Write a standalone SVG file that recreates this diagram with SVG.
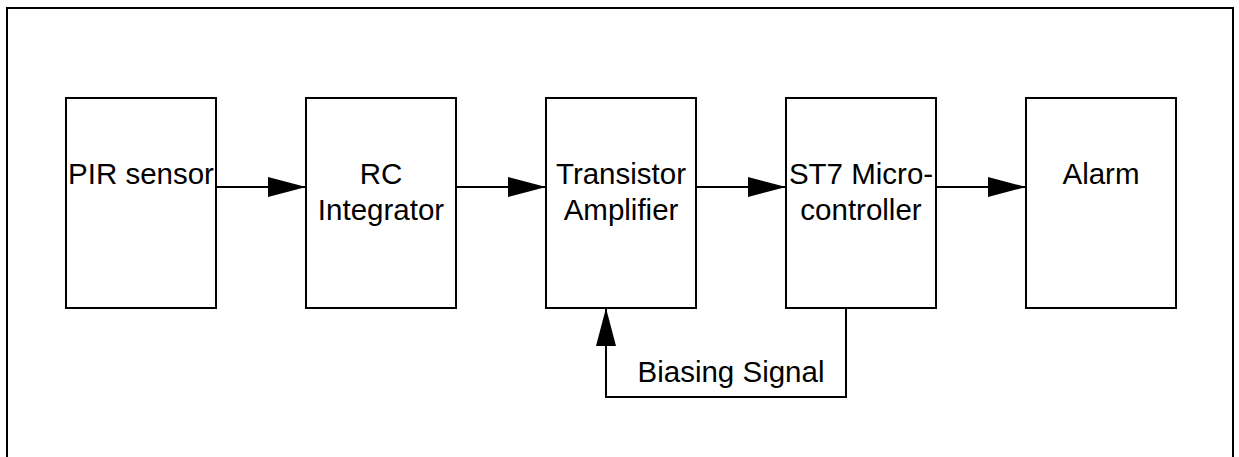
<svg xmlns="http://www.w3.org/2000/svg" width="1239" height="457" viewBox="0 0 1239 457">
<style>
.box{fill:#fff;stroke:#000;stroke-width:2}
.lbl{font-family:"Liberation Sans",Arial,sans-serif;font-size:29.5px;fill:#000;text-anchor:middle}
.ln{fill:none;stroke:#000;stroke-width:2}
</style>
<defs>
<marker id="ah" viewBox="0 0 38 20" refX="38" refY="10" markerWidth="38" markerHeight="20" markerUnits="userSpaceOnUse" orient="auto">
<path d="M0,0 L38,10 L0,20 Z" fill="#000"/>
</marker>
</defs>
<rect x="0" y="0" width="1239" height="457" fill="#fff"/>
<path class="ln" d="M7,470 L7,8 L1233,8 L1233,470"/>
<g id="pir"><rect class="box" x="66" y="98" width="150" height="210"/><text class="lbl" x="141" y="184">PIR sensor</text></g>
<g id="rc"><rect class="box" x="306" y="98" width="150" height="210"/><text class="lbl" x="381" y="184">RC</text><text class="lbl" x="381" y="220">Integrator</text></g>
<g id="amp"><rect class="box" x="546" y="98" width="150" height="210"/><text class="lbl" x="621" y="184">Transistor</text><text class="lbl" x="621" y="220">Amplifier</text></g>
<g id="mcu"><rect class="box" x="786" y="98" width="150" height="210"/><text class="lbl" x="861" y="184">ST7 Micro-</text><text class="lbl" x="861" y="220">controller</text></g>
<g id="alarm"><rect class="box" x="1026" y="98" width="150" height="210"/><text class="lbl" x="1101" y="184">Alarm</text></g>
<g id="connectors">
<line class="ln" x1="216" y1="187" x2="306" y2="187" marker-end="url(#ah)"/>
<line class="ln" x1="456" y1="187" x2="546" y2="187" marker-end="url(#ah)"/>
<line class="ln" x1="696" y1="187" x2="786" y2="187" marker-end="url(#ah)"/>
<line class="ln" x1="936" y1="187" x2="1026" y2="187" marker-end="url(#ah)"/>
<polyline class="ln" points="846,308 846,397 606,397 606,308" marker-end="url(#ah)"/>
<text class="lbl" x="731" y="382">Biasing Signal</text>
</g>
</svg>
